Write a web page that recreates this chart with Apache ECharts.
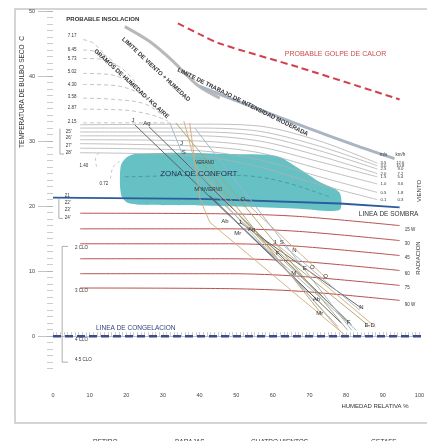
<!DOCTYPE html>
<html><head><meta charset="utf-8">
<script src="https://cdn.jsdelivr.net/npm/echarts@6/dist/echarts.min.js"></script>
<style>html,body{margin:0;padding:0;background:#fff}#c{width:427px;height:441px}</style>
</head><body><div id="c"></div>
<script>
// ---- axes ----
const rhTicks = [0,10,20,30,40,50,60,70,80,90,100];
const tempTicks = [0,10,20,30,40,50];

// ---- boundary lines [RH %, T °C] ----
const heatStroke = [[34.1,48.1],[40.1,46.4],[45.5,45.0],[67.3,41.3],[94.6,36.4]];
const windHumidLimit = [[19.6,47.6],[26.4,45.3],[32.7,42.3],[39.2,38.7],[45.5,36.6]];
const moderateWorkLimit = [[40.1,38.4],[53.7,35.4],[70.0,31.9],[83.7,29.1],[93.2,27.3]];
const shadeLine = [[0,21.3],[40.1,21.1],[78.2,20.4],[94.6,19.8]];
const freezeLine = [[0,0],[102,0]];

// moisture curves, g of water per kg of air
const moistureNames = ['7.17','6.45','5.73','5.02','4.30','3.58','2.87','2.15'];
const moistureCurves = [
  [[8.2,45.6],[10.6,45.2],[12.8,44.1],[15.0,42.6]],
  [[8.2,44.0],[11.4,43.8],[15.0,42.9],[17.7,41.3],[19.6,39.5]],
  [[8.2,42.7],[12.8,42.6],[16.9,41.8],[20.4,40.4],[23.2,38.4]],
  [[8.2,40.4],[14.2,40.3],[19.6,39.5],[23.7,38.0],[26.4,36.1]],
  [[8.2,38.7],[15.5,38.6],[22.3,37.7],[26.4,36.1],[29.2,34.3]],
  [[8.2,36.6],[16.9,36.4],[25.1,35.7],[29.7,34.0]],
  [[8.2,34.9],[18.3,34.8],[26.4,34.1],[31.3,33.1]],
  [[8.2,32.8],[21.0,32.8],[31.9,32.8]]
];
const lowMoistureCurves = [
  [[12.5,28.2],[11.6,27.3],[11.9,26.0]],
  [[18.3,26.9],[16.4,26.0],[15.7,24.2]]
];

// wind speed curves (m/s)
const windMs = ['3.5','3.0','2.5','2.0','1.5','1.0','0.5','0.1'];
const windKmh = ['12.6','10.8','9.0','7.2','5.4','3.6','1.8','0.3'];
const windCurves = [
  [[7.4,32.5],[40.1,32.6],[56.4,32.3],[72.8,30.0],[88.5,26.6]],
  [[7.4,32.0],[40.1,32.0],[56.4,31.5],[72.8,29.2],[88.5,26.2]],
  [[7.4,31.4],[40.1,31.4],[56.4,30.8],[72.8,28.5],[88.5,25.7]],
  [[7.4,30.8],[40.1,30.8],[56.4,30.0],[72.8,27.7],[88.5,25.0]],
  [[7.4,30.2],[40.1,30.0],[56.4,29.1],[72.8,26.8],[88.5,24.5]],
  [[7.4,29.6],[40.1,29.2],[56.4,28.2],[72.8,25.7],[88.5,23.4]],
  [[7.4,28.9],[40.1,28.5],[56.4,27.1],[72.8,24.5],[88.5,22.1]],
  [[7.4,28.2],[40.1,27.7],[56.4,26.0],[72.8,23.3],[88.5,21.0]]
];

// radiation curves (W)
const radiationNames = ['15 W','30','45','60','75','90 W'];
const radiationCurves = [
  [[7.4,18.9],[48.2,18.8],[67.3,18.4],[94.6,17.0]],
  [[7.4,16.5],[48.2,16.5],[67.3,16.1],[94.6,14.7]],
  [[7.4,14.2],[48.2,14.2],[67.3,13.8],[94.6,12.4]],
  [[7.4,11.9],[48.2,11.9],[67.3,11.5],[94.6,10.1]],
  [[7.4,9.6],[48.2,9.6],[67.3,9.2],[94.6,7.8]],
  [[7.4,7.4],[48.2,7.3],[67.3,6.9],[94.6,5.5]]
];

// comfort zone outline and summer / winter divide
const comfortZone = [[22.3,28.0],[34.6,28.2],[48.2,28.0],[61.0,27.7],[67.3,25.7],[72.8,23.7],[78.2,22.1],
  [78.2,19.4],[67.3,19.6],[53.7,19.9],[40.1,20.1],[23.7,20.2],[20.4,20.5],[18.8,21.4],[18.3,23.1],[18.5,26.2],[19.9,27.4]];
const comfortDivide = [[19.6,24.5],[40.1,24.7],[51.0,24.7],[59.1,24.2],[67.3,23.0],[75.5,21.4]];

// clothing bracket
const cloNames = ['2 CLO','3 CLO','4 CLO','4.5 CLO'];
const cloTemps = [13.6,6.9,-0.5,-3.7];

// climate lines per station, each a path of [RH %, T °C]
const stations = ['RETIRO','BARAJAS','CUATRO VIENTOS','GETAFE'];
const retiro = [
  [[22.3,32.5],[78.7,2.0]],
  [[26.2,32.2],[81.5,1.7]],
  [[42.8,21.6],[72.2,5.5]],
  [[51.0,17.5],[84.2,4.3]]
];
const barajas = [
  [[33.5,32.8],[80.4,0.9]],
  [[40.1,27.0],[73.3,3.4]],
  [[46.9,20.1],[80.9,2.1]],
  [[53.7,16.5],[86.4,1.5]]
];
const cuatroVientos = [
  [[35.7,33.1],[39.0,26.2],[78.2,0.9]],
  [[37.3,32.8],[40.1,21.1],[42.8,17.5],[79.6,0.2]],
  [[51.8,21.0],[74.4,9.0]],
  [[60.5,14.4],[88.0,1.4]]
];
const getafe = [
  [[31.9,32.8],[36.0,27.0],[77.7,1.5]],
  [[38.7,32.0],[81.5,0.9]],
  [[48.2,18.5],[82.8,0.9]],
  [[63.2,13.8],[83.7,4.0]]
];
const stationData = [retiro, barajas, cuatroVientos, getafe];
const stationColors = ['#575757','#aaa06c','#d4a979','#9cb2c4'];

// month tags placed along the lines
const monthTags = [
  ['J',21.8,33.2],['Ag',25.6,32.8],['J',35.1,29.7],['S',35.7,28.2],['M',39.2,22.5],['O',51.8,21.1],
  ['Ab',46.9,17.6],['J',51.0,17.5],['Ag',54.2,16.4],['Mr',50.4,15.8],['J',60.5,14.4],['S',62.4,14.4],
  ['N',65.9,13.2],['F',61.3,12.7],['E',68.7,10.4],['O',70.8,10.6],['M',65.7,9.6],['O',74.4,9.2],
  ['Ab',71.9,5.7],['N',84.2,4.4],['Mr',72.8,3.5],['F',80.7,2.1],['E-D',86.4,1.7]
];

const FONT = 'Liberation Sans, Arial, sans-serif';

// text notes placed in chart units: [text, RH, T, angleDeg, size, color, weight, align]
const notes = [
  ['PROBABLE INSOLACION',13.6,48.7,0,6,'#333','bold','center'],
  ['PROBABLE GOLPE DE CALOR',77.1,43.4,0,7,'#cf4a4f','normal','center'],
  ['GRAMOS DE HUMEDAD / KG AIRE',21.4,38.8,-42.5,6,'#333','bold','center'],
  ['LIMITE DE VIENTO + HUMEDAD',28.1,41.0,-43,6,'#333','bold','center'],
  ['LIMITE DE TRABAJO DE INTENSIDAD MODERADA',51.8,36.0,-26.5,6,'#333','bold','center'],
  ['ZONA DE CONFORT',39.8,25.0,0,8,'#1f2f4f','normal','center'],
  ['VERANO',41.4,26.6,0,4.5,'#333','normal','center'],
  ['INVIERNO',43.2,22.5,0,4.5,'#333','normal','center'],
  ['LINEA DE SOMBRA',91.6,18.7,0,6.5,'#333','normal','center'],
  ['LINEA DE CONGELACION',22.6,1.2,0,6.5,'#2e3f7f','normal','center'],
  ['m/s',90.2,27.9,0,4.5,'#333','normal','center'],
  ['km/h',94.8,27.9,0,4.5,'#333','normal','center'],
  ['1.40',8.4,26.2,0,4.5,'#333','normal','center'],
  ['0.72',13.9,23.4,0,4.5,'#333','normal','center'],
  ["25'",3.5,31.4,0,4.5,'#333','normal','left'],
  ["26'",3.5,30.5,0,4.5,'#333','normal','left'],
  ["27'",3.5,29.2,0,4.5,'#333','normal','left'],
  ["28'",3.5,28.2,0,4.5,'#333','normal','left'],
  ['21',3.2,21.6,0,4.5,'#333','normal','left'],
  ["22'",3.2,20.5,0,4.5,'#333','normal','left'],
  ["23'",3.2,19.4,0,4.5,'#333','normal','left'],
  ["24'",3.2,18.2,0,4.5,'#333','normal','left']
];
const windRowTemps = [26.6,26.2,25.7,25.0,24.5,23.4,22.1,21.0];
windMs.forEach((t,i)=>notes.push([t,90.2,windRowTemps[i],0,4.2,'#333','normal','center']));
windKmh.forEach((t,i)=>notes.push([t,94.8,windRowTemps[i],0,4.2,'#333','normal','center']));
const radLabelTemps = [16.4,14.2,12.1,9.6,7.4,4.9];
radiationNames.forEach((t,i)=>notes.push([t,96.0,radLabelTemps[i],0,4.5,'#333','normal','left']));
const moistLabelTemps = [46.2,44.1,42.7,40.6,38.7,36.8,35.1,32.9];
moistureNames.forEach((t,i)=>notes.push([t,5.2,moistLabelTemps[i],0,4.5,'#333','normal','center']));
cloNames.forEach((t,i)=>notes.push([t,6.0,cloTemps[i],0,4.5,'#333','normal','left']));
monthTags.forEach(m=>notes.push([m[0],m[1],m[2],0,6,'#333','normal','center']));

const series = [];
function poly(data, color, width, type, smooth, z, name){
  const s = {type:'line', data, showSymbol:false, silent:true, clip:false, smooth: smooth||0,
    lineStyle:{color, width, type: type||'solid'}, itemStyle:{color}, z: z||2};
  if (name) s.name = name;
  series.push(s);
}

// comfort zone polygon
series.push({type:'custom', silent:true, z:1, clip:false, data:[[0,0]],
  renderItem:(params, api)=>({type:'polygon', shape:{points: comfortZone.map(p=>api.coord(p)), smooth:0.25},
    style:{fill:'#66c1c5', stroke:'none'}})});
poly(comfortDivide, '#4f9a9d', 1, [4,3], 0.3, 3);

moistureCurves.forEach(c=>poly(c,'#c4c4c4',1,[4,3],0.4));
lowMoistureCurves.forEach(c=>poly(c,'#b8b8b8',0.8,[3,3],0.4));
windCurves.forEach(c=>poly(c,'#b0b0b0',0.8,'solid',0.3));
radiationCurves.forEach(c=>poly(c,'#b9504f',1,'solid',0.3));
poly(heatStroke,'#d2404b',2,[7,4],0.3,4);
poly(windHumidLimit,'#b8b8b8',3,'solid',0.3,3);
poly(moderateWorkLimit,'#a9b5c3',3,'solid',0.3,3);
poly(shadeLine,'#2b5d9c',1.8,'solid',0,5);
poly(freezeLine,'#3d4a8c',2.5,[8,4],0,5);

// brackets on the left
poly([[2.5,13.8],[2.5,-4.0]],'#999',0.8);
poly([[2.5,13.8],[4.1,13.8]],'#999',0.8);
poly([[2.5,-4.0],[4.1,-4.0]],'#999',0.8);
poly([[1.9,31.9],[1.9,28.0]],'#999',0.8);
poly([[1.9,28.0],[3.0,28.0]],'#999',0.8);
poly([[1.6,21.1],[1.6,18.1]],'#999',0.8);
poly([[1.6,18.1],[2.7,18.1]],'#999',0.8);

// station climate lines
stations.forEach((name, s)=>{
  stationData[s].forEach(path=>poly(path, stationColors[s], 0.9, 'solid', 0, 6, name));
});

// text notes
series.push({type:'custom', silent:true, z:8, clip:false, data: notes.map((n,i)=>[n[1],n[2],i]),
  renderItem:(params, api)=>{
    const n = notes[api.value(2)];
    const p = api.coord([api.value(0), api.value(1)]);
    return {type:'text', x:p[0], y:p[1], rotation: n[3]*Math.PI/180,
      style:{text:n[0], fill:n[5], font: n[6]+' '+n[4]+'px '+FONT, align:n[7], verticalAlign:'middle'}};
  }});

const legendLefts = [55,137,213,333];
const legends = stations.map((name,i)=>({data:[name], left:legendLefts[i], top:434, itemWidth:28, itemHeight:2,
  icon:'rect', textStyle:{fontSize:6.5, color:'#333', fontFamily:FONT}, selectedMode:false}));

const chart = echarts.init(document.getElementById('c'), null, {renderer:'canvas'});
chart.setOption({
  animation:false,
  backgroundColor:'#fff',
  textStyle:{fontFamily:FONT},
  grid:{left:53, right:7, top:11, bottom:62.6},
  legend: legends,
  xAxis:{type:'value', min:0, max:100,
    axisLine:{show:true, lineStyle:{color:'#bdbdbd', width:1}},
    axisTick:{show:true, inside:true, length:4, customValues: Array.from({length:101},(_, i)=>i), lineStyle:{color:'#aaa', width:0.6}},
    axisLabel:{customValues: rhTicks, fontSize:5.5, color:'#444', margin:14},
    splitLine:{show:false}},
  yAxis:[
    {type:'value', min:-6.5, max:50, position:'left',
      axisLine:{show:false},
      axisTick:{show:true, length:15, customValues: tempTicks, lineStyle:{color:'#aaa', width:0.7}},
      axisLabel:{customValues: tempTicks, fontSize:5.5, color:'#444', margin:18},
      splitLine:{show:false}},
    {type:'value', min:-6.5, max:50, position:'left',
      axisLine:{show:false},
      axisTick:{show:true, length:6, customValues: Array.from({length:56},(_, i)=>i-5), lineStyle:{color:'#aaa', width:0.6}},
      axisLabel:{show:false}, splitLine:{show:false}}
  ],
  graphic:[
    {type:'rect', shape:{x:15,y:9,width:440,height:414}, style:{fill:'none', stroke:'#c8c8c8', lineWidth:1.5}, silent:true, z:-10},
    {type:'text', x:22, y:92, rotation:Math.PI/2, style:{text:'TEMPERATURA DE BULBO SECO  C', font:'6.5px '+FONT, fill:'#333', align:'center', verticalAlign:'middle'}},
    {type:'text', x:375, y:406, style:{text:'HUMEDAD RELATIVA %', font:'6px '+FONT, fill:'#333', align:'center', verticalAlign:'middle'}},
    {type:'text', x:419, y:191, rotation:Math.PI/2, style:{text:'VIENTO', font:'6px '+FONT, fill:'#333', align:'center', verticalAlign:'middle'}},
    {type:'text', x:418, y:258, rotation:Math.PI/2, style:{text:'RADIACION', font:'6px '+FONT, fill:'#333', align:'center', verticalAlign:'middle'}}
  ],
  series
});
</script></body></html>
